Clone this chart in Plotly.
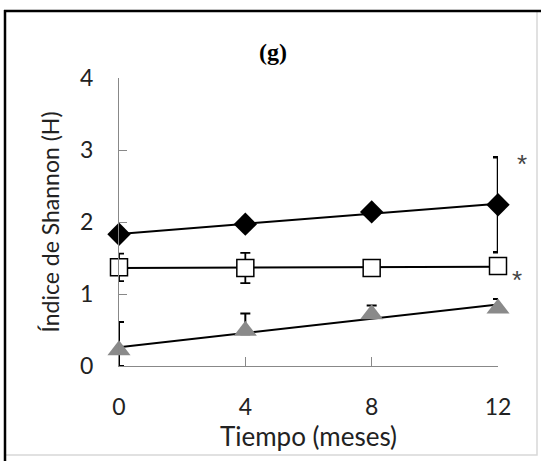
import numpy as np
import plotly.graph_objects as go

# ---- data ----
months = [0, 4, 8, 12]
tick_vals_y = [0, 1, 2, 3, 4]
tick_vals_x = [0, 4, 8, 12]

diamond_vals = [1.83, 1.97, 2.14, 2.24]
diamond_err_plus = [0.0, 0.0, 0.0, 0.66]
diamond_err_minus = [0.0, 0.0, 0.0, 0.66]

square_vals = [1.37, 1.36, 1.36, 1.39]
square_err = [0.19, 0.21, 0.05, 0.05]

triangle_vals = [0.22, 0.49, 0.72, 0.80]
triangle_err_plus = [0.39, 0.24, 0.12, 0.13]
triangle_err_minus = [0.22, 0.05, 0.03, 0.03]

star_x = [12, 12]
star_y = [2.87, 1.26]
star_xshift = [24, 19]

title_text = "(g)"
x_title = "Tiempo (meses)"
y_title = "Índice de Shannon (H)"

# ---- layout geometry ----
W, H = 541, 461
L, R, T, B = 119, 43, 78, 95
PW, PH = W - L - R, H - T - B


def px(xp):
    return (xp - L) / PW


def py(yp):
    return (H - B - yp) / PH


FONT = "Lato, 'Noto Sans', sans-serif"

fig = go.Figure()

# trend lines (least squares fit of each series)
for vals in [diamond_vals, square_vals, triangle_vals]:
    k, b = np.polyfit(months, vals, 1)
    xs = [months[0], months[-1]]
    fig.add_trace(go.Scatter(
        x=xs, y=[k * x + b for x in xs], mode="lines",
        line=dict(color="black", width=2), showlegend=False,
        hoverinfo="skip", cliponaxis=False))

# triangles
fig.add_trace(go.Scatter(
    x=months, y=triangle_vals, mode="markers",
    marker=dict(symbol="triangle-up", size=20, color="#8a8a8a",
                line=dict(width=0)),
    error_y=dict(type="data", array=triangle_err_plus,
                 arrayminus=triangle_err_minus, color="black",
                 thickness=2, width=5),
    showlegend=False, cliponaxis=False))

# squares
fig.add_trace(go.Scatter(
    x=months, y=square_vals, mode="markers",
    marker=dict(symbol="square", size=17, color="white",
                line=dict(width=1.5, color="black")),
    error_y=dict(type="data", array=square_err, color="black",
                 thickness=1.8, width=5),
    showlegend=False, cliponaxis=False))

# diamonds
fig.add_trace(go.Scatter(
    x=months, y=diamond_vals, mode="markers",
    marker=dict(symbol="diamond", size=18, color="black",
                line=dict(width=0)),
    error_y=dict(type="data", array=diamond_err_plus,
                 arrayminus=diamond_err_minus, color="black",
                 thickness=2.5, width=5),
    showlegend=False, cliponaxis=False))

annotations = []
for sx, sy, sh in zip(star_x, star_y, star_xshift):
    annotations.append(dict(
        x=sx, y=sy, xref="x", yref="y", text="*", showarrow=False,
        xshift=sh, yshift=-5, yanchor="middle",
        font=dict(family="Liberation Sans", size=26, color="#444")))

annotations.append(dict(
    x=px(273), y=py(52), xref="paper", yref="paper", text="<b>%s</b>" % title_text,
    showarrow=False, xanchor="center", yanchor="middle",
    font=dict(family="'Liberation Serif', serif", size=24, color="black")))

shapes = [
    dict(type="rect", xref="paper", yref="paper",
         x0=px(5), x1=px(537), y0=py(455), y1=py(11),
         line=dict(color="#d8d8d8", width=1.5), layer="below"),
    dict(type="line", xref="paper", yref="paper",
         x0=px(4), x1=px(541), y0=py(11), y1=py(11),
         line=dict(color="black", width=2.5)),
    dict(type="line", xref="paper", yref="paper",
         x0=px(5), x1=px(5), y0=py(461), y1=py(10),
         line=dict(color="black", width=2.5)),
]

fig.update_layout(
    width=W, height=H,
    margin=dict(l=L, r=R, t=T, b=B, pad=0),
    paper_bgcolor="white", plot_bgcolor="white",
    font=dict(family=FONT, size=23, color="#222"),
    annotations=annotations, shapes=shapes,
    xaxis=dict(range=[0, 12], tickvals=tick_vals_x, ticks="inside",
               ticklen=9, tickcolor="#888", showline=True, linecolor="#888",
               linewidth=1, showgrid=False, zeroline=False,
               ticklabelstandoff=20, automargin=False,
               title=dict(text=x_title, standoff=8, font=dict(size=26))),
    yaxis=dict(range=[0, 4], tickvals=tick_vals_y, ticks="inside",
               ticklen=8, tickcolor="#888", showline=True, linecolor="#888",
               linewidth=1, showgrid=False, zeroline=False,
               ticklabelstandoff=20, automargin=False,
               title=dict(text=y_title, standoff=14, font=dict(size=23))),
)

fig.write_html("out.html", config={"displayModeBar": False},
               post_script="document.body.style.margin='0';")
